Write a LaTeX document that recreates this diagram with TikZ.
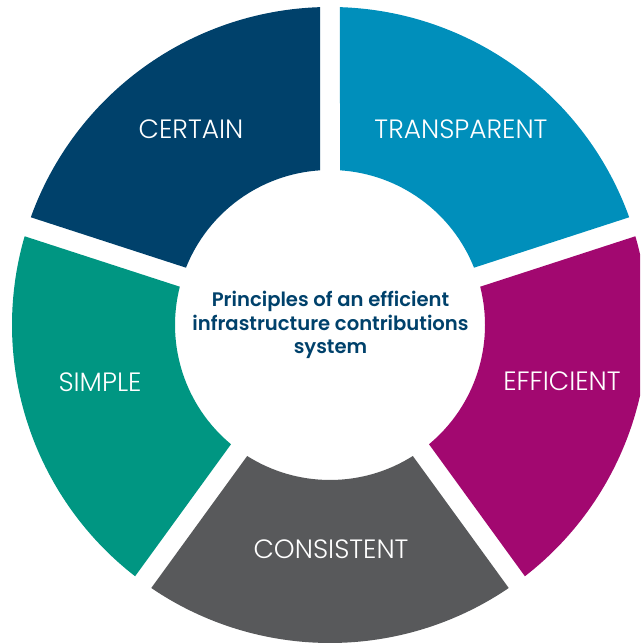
\documentclass[tikz,border=0pt]{standalone}
\usepackage{fontspec}
\setmainfont{Poppins}[UprightFont=* Light, BoldFont=* SemiBold]
\definecolor{cCertain}{RGB}{0,65,107}
\definecolor{cTransparent}{RGB}{0,143,187}
\definecolor{cEfficient}{RGB}{162,8,112}
\definecolor{cConsistent}{RGB}{88,89,91}
\definecolor{cSimple}{RGB}{0,150,130}
\definecolor{cCenter}{RGB}{0,65,107}
\tikzset{
  seglabel/.style={text=white, font=\fontsize{26.5}{30}\selectfont, inner sep=0pt, anchor=base},
  centertext/.style={text=cCenter, font=\bfseries\fontsize{19.6}{23.5}\selectfont, align=center, inner sep=0pt}
}
\newcommand{\Rout}{318}
\newcommand{\Rin}{155}
\newcommand{\dOut}{1.80}
\newcommand{\dIn}{3.70}
% segment: #1 colour, #2 start angle, #3 end angle
\newcommand{\donutseg}[3]{%
  \fill[#1] ([shift={(#2+\dOut:\Rout)}]ctr)
    arc[start angle=#2+\dOut, end angle=#3-\dOut, radius=\Rout]
    -- ([shift={(#3-\dIn:\Rin)}]ctr)
    arc[start angle=#3-\dIn, end angle=#2+\dIn, radius=\Rin]
    -- cycle;}
\begin{document}
\begin{tikzpicture}[x=1pt,y=1pt]
\useasboundingbox (0,0) rectangle (640,644);
\clip (0,0) rectangle (640,644);
\coordinate (ctr) at (330,319);
\donutseg{cCertain}{90}{162}
\donutseg{cTransparent}{18}{90}
\donutseg{cEfficient}{-54}{18}
\donutseg{cConsistent}{-126}{-54}
\donutseg{cSimple}{162}{234}
\node[seglabel] (certain) at (191,644-138.5) {CERTAIN};
\node[seglabel] (transparent) at (461,644-139) {TRANSPARENT};
\node[seglabel] (efficient) at (562,644-390.5) {EFFICIENT};
\node[seglabel] (consistent) at (331,644-559) {CONSISTENT};
\node[seglabel] (simple) at (100,644-391.5) {SIMPLE};
\node[centertext, anchor=base] (center) at (330.5,644-354) {Principles of an efficient\\infrastructure contributions\\system};
\end{tikzpicture}
\end{document}
